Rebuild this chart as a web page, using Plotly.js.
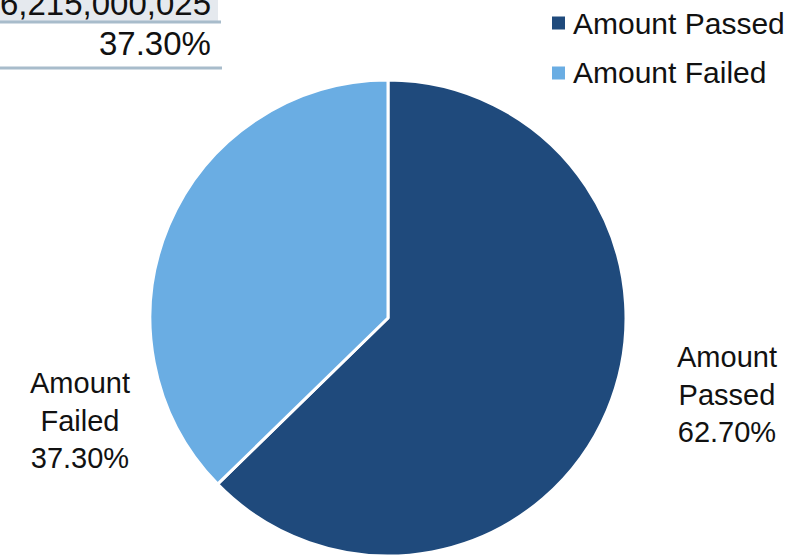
<!DOCTYPE html>
<html>
<head>
<meta charset="utf-8">
<script src="https://cdn.plot.ly/plotly-3.0.1.min.js"></script>
<style>
  html, body { margin: 0; padding: 0; background: #ffffff; }
  #chart { width: 789px; height: 558px; }
</style>
</head>
<body>
<div id="chart"></div>
<script>
// Slice data
const labels = ['Amount Passed', 'Amount Failed'];
const shares = [62.70, 37.30];
const colors = ['#1f4a7c', '#6aade3'];

// Summary table rows (partially visible strip at the top left)
const tableTotals = ['6,215,000,025'];
const tableShares = [37.30];

const W = 789, H = 558;
const px = x => x / W;          // pixel -> paper x
const py = y => 1 - y / H;      // pixel -> paper y (from top)

const FONT = 'Liberation Sans, Arial, sans-serif';
const pct = v => v.toFixed(2) + '%';

const trace = {
  type: 'pie',
  labels: labels,
  values: shares,
  sort: false,
  direction: 'clockwise',
  rotation: 0,
  textinfo: 'none',
  hoverinfo: 'label+percent',
  marker: { colors: colors, line: { color: '#ffffff', width: 3 } },
  domain: { x: [px(150), px(626)], y: [py(556), py(80)] },
  showlegend: false
};

const annotations = [];
const shapes = [];

// Slice labels placed beside the pie
const labelPos = [
  { x: 727, y: 394 },
  { x: 80, y: 420 }
];
labels.forEach((name, i) => {
  annotations.push({
    xref: 'paper', yref: 'paper',
    x: px(labelPos[i].x), y: py(labelPos[i].y),
    xanchor: 'center', yanchor: 'middle',
    showarrow: false,
    text: name.replace(' ', '<br>') + '<br>' + pct(shares[i]),
    font: { family: FONT, size: 29, color: '#111111' }
  });
});

// Legend: colour squares with names
labels.forEach((name, i) => {
  const cy = 23 + i * 50;
  shapes.push({
    type: 'rect', xref: 'paper', yref: 'paper',
    x0: px(552), x1: px(565), y0: py(cy - 6.5), y1: py(cy + 6.5),
    fillcolor: colors[i], line: { width: 0 }
  });
  annotations.push({
    xref: 'paper', yref: 'paper',
    x: px(571), y: py(cy),
    xanchor: 'left', yanchor: 'middle',
    showarrow: false,
    text: name,
    font: { family: FONT, size: 30, color: '#111111' }
  });
});

// Table strip: shaded row, rules and figures
shapes.push({
  type: 'rect', xref: 'paper', yref: 'paper',
  x0: 0, x1: px(218), y0: py(21), y1: py(-5),
  fillcolor: '#e5e9ee', line: { width: 0 }
});
shapes.push({
  type: 'line', xref: 'paper', yref: 'paper',
  x0: 0, x1: px(221), y0: py(22), y1: py(22),
  line: { color: '#a8bccb', width: 3 }
});
shapes.push({
  type: 'line', xref: 'paper', yref: 'paper',
  x0: 0, x1: px(222), y0: py(68), y1: py(68),
  line: { color: '#a8bccb', width: 3 }
});
annotations.push({
  xref: 'paper', yref: 'paper',
  x: px(213), y: py(4),
  xanchor: 'right', yanchor: 'middle',
  showarrow: false,
  text: tableTotals[0],
  font: { family: FONT, size: 33, color: '#111111' }
});
annotations.push({
  xref: 'paper', yref: 'paper',
  x: px(213), y: py(43),
  xanchor: 'right', yanchor: 'middle',
  showarrow: false,
  text: pct(tableShares[0]),
  font: { family: FONT, size: 33, color: '#111111' }
});

const layout = {
  width: W, height: H,
  margin: { l: 0, r: 0, t: 0, b: 0 },
  paper_bgcolor: '#ffffff',
  plot_bgcolor: '#ffffff',
  showlegend: false,
  annotations: annotations,
  shapes: shapes,
  font: { family: FONT }
};

Plotly.newPlot('chart', [trace], layout, { displayModeBar: false, staticPlot: true });
</script>
</body>
</html>
